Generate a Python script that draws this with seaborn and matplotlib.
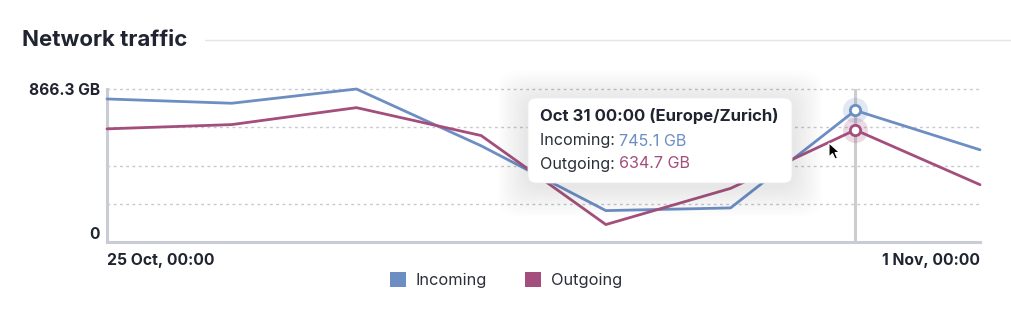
import matplotlib
matplotlib.use("Agg")
import matplotlib.pyplot as plt
import seaborn as sns
import pandas as pd
import numpy as np
from matplotlib.patches import FancyBboxPatch, Patch, Polygon
from matplotlib.lines import Line2D

# ---- data ----
dates = pd.date_range("2025-10-25", "2025-11-01", freq="D")
incoming = [809.9, 785.6, 866.3, 544.6, 177.7, 193.0, 745.1, 522.0]
outgoing = [640.6, 664.8, 760.7, 602.7, 98.8, 303.6, 634.7, 324.5]
series_names = ["Incoming", "Outgoing"]
colors = ["#6d8ec2", "#a34e7c"]
y_max = 866.3
y_tick_labels = ["0", "866.3 GB"]
x_tick_labels = ["25 Oct, 00:00", "1 Nov, 00:00"]
hover_index = 6
hover_label = "Oct 31 00:00 (Europe/Zurich)"

df = pd.DataFrame({
    "date": list(dates) * 2,
    "value": incoming + outgoing,
    "series": [series_names[0]] * len(dates) + [series_names[1]] * len(dates),
})

sns.set_theme(style="white")
plt.rcParams["font.family"] = ["Inter", "DejaVu Sans"]

W, H = 1012, 318
fig = plt.figure(figsize=(W / 100, H / 100), dpi=100)

def fx(x):
    return x / W

def fy(y):
    return 1 - y / H

ax = fig.add_axes([fx(107), fy(242), fx(980) - fx(107), (242 - 89) / H])

# grid (drawn below the lines)
ax.set_ylim(0, y_max)
grid_levels = [y_max * k / 4 for k in range(1, 5)]
for g in grid_levels:
    ax.axhline(g, color="#c6c9d0", linestyle=(0, (2, 2.5)), linewidth=1.0, zorder=1, clip_on=False)

sns.lineplot(data=df, x="date", y="value", hue="series", palette=colors,
             linewidth=2.0, ax=ax, legend=False, zorder=3)
for ln in ax.lines:
    ln.set_clip_on(False)

ax.set_xlim(dates[0], dates[-1])
ax.set_ylim(0, y_max)
ax.set_xlabel("")
ax.set_ylabel("")
ax.grid(False)

ax.set_yticks([0, y_max])
ax.tick_params(which="both", length=0)
ax.set_yticklabels(y_tick_labels, fontsize=11.2, fontweight="bold", color="#1f2430")
ax.tick_params(axis="y", pad=5)
ylabs = ax.get_yticklabels()
ylabs[0].set_va("bottom")

ax.set_xticks([dates[0], dates[-1]])
ax.set_xticklabels(x_tick_labels, fontsize=11.3, fontweight="bold", color="#1f2430")
ax.tick_params(axis="x", pad=8)
xl = ax.get_xticklabels()
xl[0].set_ha("left")
xl[1].set_ha("right")

for s in ["top", "right"]:
    ax.spines[s].set_visible(False)
for s in ["left", "bottom"]:
    ax.spines[s].set_color("#c9ccd4")
    ax.spines[s].set_linewidth(2.2)
    ax.spines[s].set_zorder(2)

# crosshair
ax.axvline(dates[hover_index], color="#cdcdcd", linewidth=2.2, zorder=2)

# hover markers
for vals, c in zip([incoming, outgoing], colors):
    ax.scatter([dates[hover_index]], [vals[hover_index]], s=330, color=c, alpha=0.2,
               linewidths=0, zorder=4, clip_on=False)
    ax.scatter([dates[hover_index]], [vals[hover_index]], s=55, facecolor="white",
               edgecolor=c, linewidths=2.0, zorder=5, clip_on=False)

# title and rule
fig.text(fx(22), fy(40), "Network traffic", fontsize=16, fontweight="bold",
         color="#1f2430", va="center", ha="left")
fig.add_artist(Line2D([fx(205), fx(1012)], [fy(40), fy(40)], color="#e3e5ea", linewidth=1))

# tooltip shadow + box
bx0, by0, bx1, by1 = 528, 98, 792, 183
for i in range(12, 0, -1):
    pad = i * 2.5
    sh = FancyBboxPatch((fx(bx0 - pad), fy(by1 + pad + 3)),
                        fx(bx1 - bx0 + 2 * pad), (by1 - by0 + 2 * pad) / H,
                        boxstyle="round,pad=0,rounding_size=0.02",
                        transform=fig.transFigure, facecolor="#5a6275",
                        alpha=0.010, edgecolor="none", zorder=8,
                        mutation_aspect=W / H)
    fig.add_artist(sh)
box = FancyBboxPatch((fx(bx0), fy(by1)), fx(bx1 - bx0), (by1 - by0) / H,
                     boxstyle="round,pad=0,rounding_size=0.008",
                     transform=fig.transFigure, facecolor="white",
                     edgecolor="#eceef2", linewidth=0.6, zorder=9,
                     mutation_aspect=W / H)
fig.add_artist(box)

t0 = fig.text(fx(540), fy(116), hover_label, fontsize=12, fontweight="bold",
              color="#1f2430", va="center", ha="left", zorder=10)
t1 = fig.text(fx(540), fy(141), f"{series_names[0]}: ", fontsize=11.6,
              color="#2b2f38", va="center", ha="left", zorder=10)
fig.canvas.draw()
r = fig.canvas.get_renderer()
e1 = t1.get_window_extent(r)
fig.text(e1.x1 / W, fy(141), f"{incoming[hover_index]:.1f} GB", fontsize=11.6,
         color=colors[0], va="center", ha="left", zorder=10)
t2 = fig.text(fx(540), fy(164), f"{series_names[1]}: ", fontsize=11.6,
              color="#2b2f38", va="center", ha="left", zorder=10)
e2 = t2.get_window_extent(r)
fig.text(e2.x1 / W, fy(164), f"{outgoing[hover_index]:.1f} GB", fontsize=11.6,
         color=colors[1], va="center", ha="left", zorder=10)

# mouse cursor
tipx, tipy = 829, 143
shape = [(0, 0), (0, 14), (3.5, 10.5), (6, 16), (8.5, 15), (6, 9.5), (10.5, 9.5)]
cursor = Polygon([(fx(tipx + dx), fy(tipy + dy)) for dx, dy in shape], closed=True,
                 transform=fig.transFigure, facecolor="black", edgecolor="white",
                 linewidth=0.8, zorder=11)
fig.add_artist(cursor)

# legend
handles = [Patch(facecolor=c, edgecolor="none", label=n) for n, c in zip(series_names, colors)]
fig.legend(handles=handles, loc="center", bbox_to_anchor=(fx(506), fy(280)), ncol=2,
           frameon=False, fontsize=11.8, handlelength=1.0, handleheight=1.0,
           handletextpad=0.6, columnspacing=2.3, labelcolor="#2b2f38")

fig.savefig("out.png", dpi=100, facecolor="white")
